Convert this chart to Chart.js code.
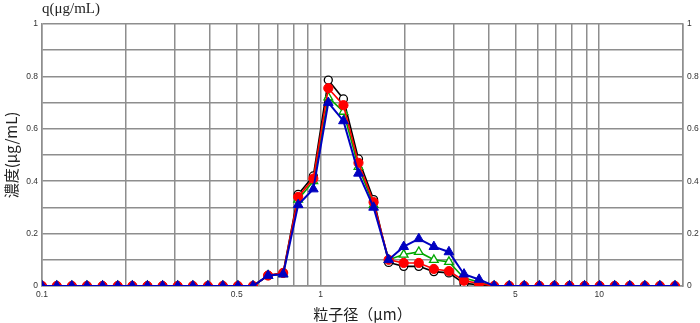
<!DOCTYPE html>
<html><head><meta charset="utf-8">
<script src="https://cdn.jsdelivr.net/npm/chart.js@4/dist/chart.umd.min.js"></script>
<style>html,body{margin:0;padding:0;background:#fff}</style>
</head><body>
<canvas id="c" width="700" height="323" style="display:block;width:700px;height:323px"></canvas>
<script>
// particle size (µm)
const sizes = [0.1,0.113,0.128,0.145,0.165,0.187,0.211,0.239,0.271,0.307,0.348,0.394,0.446,0.505,0.572,
  0.648,0.734,0.831,0.942,1.066,1.208,1.368,1.550,1.755,1.988,2.252,2.551,2.889,3.273,3.707,
  4.198,4.755,5.385,6.100,6.909,7.825,8.863,10.04,11.37,12.88,14.59,16.52,18.72];
const z15 = [0,0,0,0,0,0,0,0,0,0,0,0,0,0,0];
const z13 = [0,0,0,0,0,0,0,0,0,0,0,0,0];
const seriesBlack = [...z15, 0.04,0.05,0.35,0.42,0.786,0.714,0.485,0.33,0.09,0.075,0.075,0.055,0.05,0.01,0.005, ...z13];
const seriesRed   = [...z15, 0.04,0.05,0.34,0.41,0.755,0.69,0.47,0.32,0.10,0.088,0.088,0.065,0.057,0.02,0.01, ...z13];
const seriesGreen = [...z15, 0.04,0.045,0.33,0.40,0.72,0.665,0.455,0.31,0.10,0.12,0.13,0.10,0.092,0.03,0.015, ...z13];
const seriesBlue  = [...z15, 0.04,0.045,0.31,0.37,0.70,0.63,0.43,0.30,0.10,0.15,0.18,0.15,0.13,0.045,0.025, ...z13];
const xGridTicks = [0.1,0.2,0.3,0.4,0.5,0.6,0.7,0.8,0.9,1,2,3,4,5,6,7,8,9,10,20];
const xLabelTicks = [0.1,0.5,1,5,10];
const yLabelTicks = [0,0.2,0.4,0.6,0.8,1];

const toPts = arr => arr.map((v,i)=>({x:sizes[i], y:v}));
const gridCol = '#8e8e8e';
const tickFont = {family:'Liberation Sans', size:8.5};
const yCb = v => { const r = Math.round(v*10); return yLabelTicks.some(t=>Math.round(t*10)===r) ? String(r/10) : ''; };

new Chart(document.getElementById('c'), {
  type: 'line',
  data: {
    datasets: [
      {data: toPts(seriesBlack), borderColor:'#000', backgroundColor:'#fff', pointStyle:'circle', pointRadius:4, pointBorderWidth:1.3, borderWidth:1.6, order:4},
      {data: toPts(seriesGreen), borderColor:'#00a800', backgroundColor:'#fff', pointStyle:'triangle', pointRadius:5, pointBorderWidth:1.3, borderWidth:1.6, order:3},
      {data: toPts(seriesRed), borderColor:'#ff0000', backgroundColor:'#ff0000', pointStyle:'circle', pointRadius:4.6, pointBorderWidth:1, borderWidth:1.6, order:2},
      {data: toPts(seriesBlue), borderColor:'#0000c0', backgroundColor:'#0000c0', pointStyle:'triangle', pointRadius:5.6, pointBorderWidth:1, borderWidth:2, order:1}
    ]
  },
  options: {
    responsive:false, animation:false, devicePixelRatio:1,
    layout:{padding:0},
    plugins:{
      legend:{display:false}, tooltip:{enabled:false},
      title:{display:true, text:'q(μg/mL)', align:'start', fullSize:false, color:'#222',
        font:{family:'Liberation Serif', size:15, weight:'normal'}, padding:{top:0,bottom:6}}
    },
    scales:{
      x:{type:'logarithmic', min:0.1, max:20, position:'bottom',
        afterBuildTicks: s => { s.ticks = xGridTicks.map(v=>({value:v})); },
        afterFit: s => { s.height = 37; },
        grid:{color:gridCol, lineWidth:1.5, drawTicks:false},
        border:{display:true, color:gridCol, width:1.5},
        ticks:{autoSkip:false, maxRotation:0, padding:4, color:'#333', font:tickFont,
          callback: v => xLabelTicks.includes(v) ? String(v) : ''},
        title:{display:true, text:'粒子径（μm）', color:'#222', font:{family:'Noto Sans CJK JP', size:15}, padding:{top:0,bottom:0}}
      },
      y:{type:'linear', min:0, max:1, position:'left',
        afterFit: s => { s.width = 42; },
        grid:{color:gridCol, lineWidth:1.5, drawTicks:false},
        border:{display:true, color:gridCol, width:1.5},
        ticks:{stepSize:0.1, padding:4, color:'#333', font:tickFont, callback: yCb},
        title:{display:true, text:'濃度(μg/mL)', color:'#222', font:{family:'Noto Sans CJK JP', size:15}, padding:{top:2,bottom:0}}
      },
      y2:{type:'linear', min:0, max:1, position:'right',
        afterFit: s => { s.width = 17; },
        grid:{display:false, drawTicks:false},
        border:{display:true, color:gridCol, width:1.5},
        ticks:{stepSize:0.1, padding:4, color:'#333', font:tickFont, callback: yCb}
      }
    }
  }
});
</script>
</body></html>
